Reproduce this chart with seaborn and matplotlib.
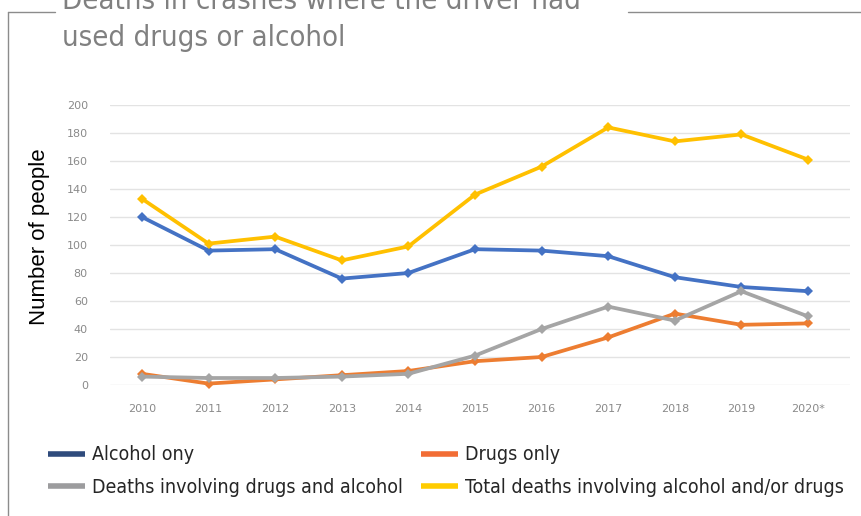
import matplotlib
matplotlib.use("Agg")
import matplotlib.pyplot as plt
import seaborn as sns
import pandas as pd
from matplotlib.lines import Line2D

years = ["2010", "2011", "2012", "2013", "2014", "2015", "2016", "2017", "2018", "2019", "2020*"]
alcohol_only = [120, 96, 97, 76, 80, 97, 96, 92, 77, 70, 67]
drugs_only = [8, 1, 4, 7, 10, 17, 20, 34, 51, 43, 44]
drugs_and_alcohol = [6, 5, 5, 6, 8, 21, 40, 56, 46, 67, 49]
total_deaths = [133, 101, 106, 89, 99, 136, 156, 184, 174, 179, 161]

series_names = ["Alcohol ony", "Drugs only", "Deaths involving drugs and alcohol",
                "Total deaths involving alcohol and/or drugs"]
line_colors = ["#4472C4", "#ED7D31", "#A5A5A5", "#FFC000"]
legend_colors = ["#2F4B7C", "#F26D35", "#9C9C9E", "#FFCC00"]

sns.set_style("white")
fig = plt.figure(figsize=(8.62, 5.16), dpi=100)
ax = fig.add_axes([110 / 862, 1 - 385 / 516, 740 / 862, 280 / 516])

rows = []
for name, vals in zip(series_names, [alcohol_only, drugs_only, drugs_and_alcohol, total_deaths]):
    for i, v in enumerate(vals):
        rows.append({"x": i, "value": v, "series": name})
df = pd.DataFrame(rows)

for name, col in zip(series_names, line_colors):
    sub = df[df["series"] == name]
    sns.lineplot(data=sub, x="x", y="value", color=col, linewidth=2.7, marker="D",
                 markersize=5, markeredgewidth=0, ax=ax, clip_on=False, zorder=3)

ax.set_xlim(-0.48, 10.63)
ax.set_ylim(0, 200)
ax.set_yticks(range(0, 201, 20))
ax.set_xticks(range(len(years)))
ax.set_xticklabels(years)
ax.tick_params(axis="both", length=0, labelsize=8, labelcolor="#8a8a8a")
ax.tick_params(axis="x", pad=14)
ax.tick_params(axis="y", pad=16)
ax.grid(axis="y", color="#e3e3e3", linewidth=1)
ax.set_axisbelow(True)
for s in ax.spines.values():
    s.set_visible(False)
ax.set_xlabel("")
ax.set_ylabel("")

fig.text(40 / 862, 1 - 237 / 516, "Number of people", rotation=90, fontsize=16,
         family="Liberation Sans", color="black", ha="center", va="center")

# title (first line partly cut off at the top, as in the source)
title_kw = dict(fontsize=21, family="DejaVu Sans", fontstretch="condensed",
                color="#808080", va="baseline", ha="left")
fig.text(62 / 862, 1 - 9 / 516, "Deaths in crashes where the driver had", **title_kw)
fig.text(62 / 862, 1 - 46 / 516, "used drugs or alcohol", **title_kw)

# frame lines
frame_col = "#8c8c8c"
fig.add_artist(Line2D([8 / 862, 8 / 862], [1 - 12 / 516, 0], color=frame_col, lw=1))
fig.add_artist(Line2D([8 / 862, 55 / 862], [1 - 12 / 516, 1 - 12 / 516], color=frame_col, lw=1))
fig.add_artist(Line2D([628 / 862, 1], [1 - 12 / 516, 1 - 12 / 516], color=frame_col, lw=1))

# legend, filled row by row
order = [0, 2, 1, 3]
handles = [Line2D([0], [0], color=legend_colors[i], lw=4, solid_capstyle="butt") for i in order]
labels = [series_names[i] for i in order]
fig.legend(handles, labels, loc="upper left", bbox_to_anchor=(31 / 862, 1 - 428 / 516),
           ncol=2, frameon=False, handlelength=1.9, handletextpad=0.35, columnspacing=0.93,
           labelspacing=0.68, prop={"family": "DejaVu Sans", "stretch": "condensed", "size": 14})

fig.savefig("out.png", dpi=100)
